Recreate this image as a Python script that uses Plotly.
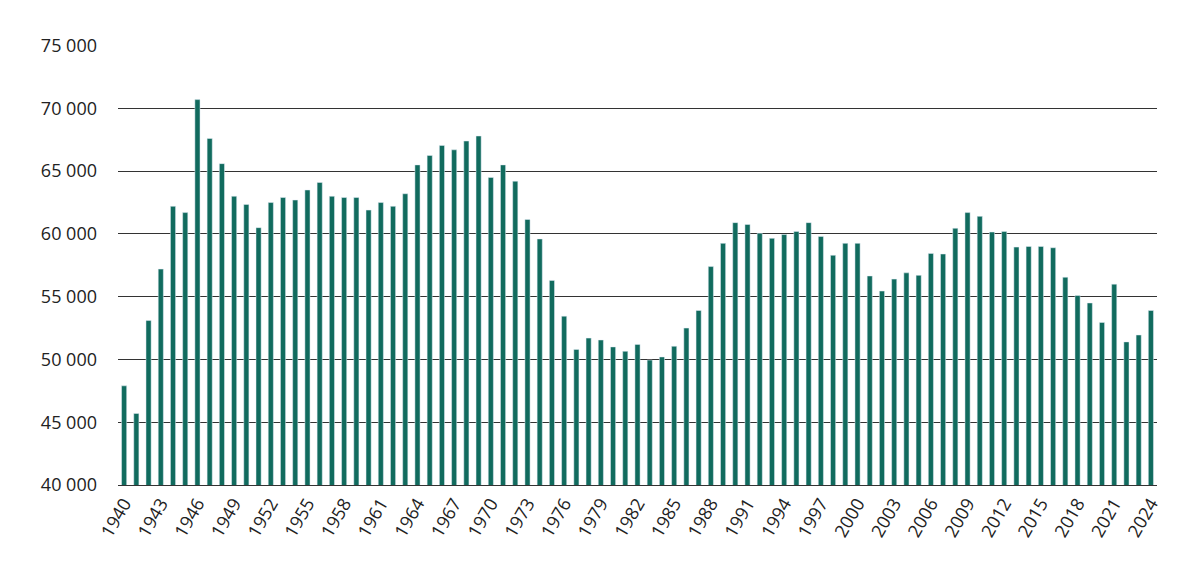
import plotly.graph_objects as go

years = list(range(1940, 2025))
births = [47900,45700,53100,57200,62200,61700,70700,67600,65600,63000,
          62350,60500,62500,62900,62700,63500,64100,63000,62900,62900,
          61900,62500,62200,63200,65500,66250,67050,66700,67400,67800,
          64500,65500,64200,61150,59600,56300,53450,50800,51700,51550,
          51000,50650,51200,49950,50200,51050,52500,53900,57400,59250,
          60900,60750,60050,59650,59950,60200,60900,59800,58300,59250,
          59250,56650,55450,56400,56900,56700,58450,58400,60450,61700,
          61400,60150,60200,58950,59000,59000,58900,56550,55100,54500,
          52950,56000,51400,51950,53900]
ytick_vals = list(range(40000, 75001, 5000))
ytick_text = [f"{v:,}".replace(",", " ") for v in ytick_vals]
xtick_vals = list(range(1940, 2025, 3)) + [2024]

fig = go.Figure(go.Bar(x=years, y=births, marker_color="#116b5e", width=0.42))
fig.update_layout(
    width=1200, height=573, plot_bgcolor="white", paper_bgcolor="white",
    margin=dict(l=110, r=51, t=37, b=96), showlegend=False,
    font=dict(family="Open Sans", size=17, color="#222"),
)
fig.update_yaxes(range=[40000, 75050], tickvals=ytick_vals, ticktext=ytick_text,
                 showgrid=True, gridcolor="#333", gridwidth=0.8, zeroline=False,
                 ticklen=0, ticks="", showline=False, tickfont=dict(size=18), ticklabelstandoff=20)
fig.update_xaxes(range=[1939.5, 2024.5], tickvals=xtick_vals, tickangle=-60,
                 showline=True, linecolor="#333", ticks="", tickfont=dict(size=18))
fig.write_html("out.html")
